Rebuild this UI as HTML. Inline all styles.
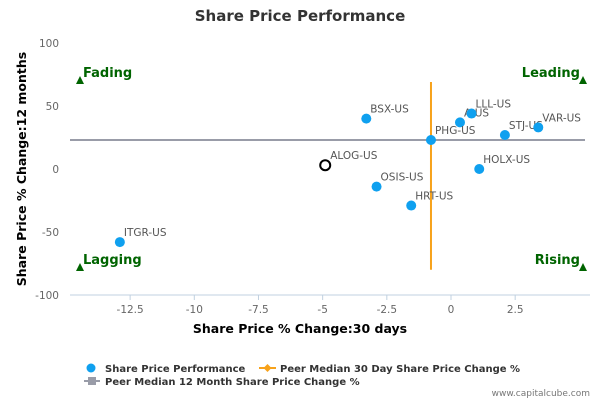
<!DOCTYPE html>
<html><head><meta charset="utf-8"><style>
body{margin:0;background:#fff;font-family:"DejaVu Sans","Liberation Sans",sans-serif}
svg text{font-family:"DejaVu Sans","Liberation Sans",sans-serif}
</style></head><body>
<svg id="c" width="600" height="400" xmlns="http://www.w3.org/2000/svg">
<rect width="600" height="400" fill="#fff"/>
<text x="300" y="21" text-anchor="middle" font-size="15" font-weight="600" fill="#333">Share Price Performance</text>
<g id="grid"></g>
<g id="marks"></g>
<text x="300" y="333" text-anchor="middle" font-size="12.5" font-weight="bold" fill="#000">Share Price % Change:30 days</text>
<text transform="translate(26,169) rotate(-90)" text-anchor="middle" font-size="12.5" font-weight="bold" fill="#000">Share Price % Change:12 months</text>
<g>
<circle cx="91" cy="368" r="4.5" fill="#0fa0ef"/>
<text x="105" y="372" font-size="10" font-weight="bold" fill="#333">Share Price Performance</text>
<line x1="259" y1="368" x2="276" y2="368" stroke="#f7a21b" stroke-width="2"/>
<path d="M267.5 364 L271.5 368 L267.5 372 L263.5 368Z" fill="#f7a21b"/>
<text x="280" y="372" font-size="10" font-weight="bold" fill="#333">Peer Median 30 Day Share Price Change %</text>
<line x1="84" y1="381" x2="100" y2="381" stroke="#999ca8" stroke-width="2"/>
<rect x="88" y="377" width="8" height="8" fill="#999ca8"/>
<text x="105" y="385" font-size="10" font-weight="bold" fill="#333">Peer Median 12 Month Share Price Change %</text>
</g>
<text x="590" y="396" text-anchor="end" font-size="9" fill="#777">www.capitalcube.com</text>
</svg>
<script>
const names=["ITGR-US","BSX-US","A-US","LLL-US","PHG-US","STJ-US","VAR-US","HOLX-US","OSIS-US","HRT-US"];
const xVals=[-12.9,-3.3,0.35,0.8,-0.78,2.1,3.4,1.1,-2.9,-1.55];
const yVals=[-58,40,37,44,23,27,33,0,-14,-29];
const focusName="ALOG-US";const focusX=-4.9;const focusY=3;
const medianX=-0.78;const medianY=23;
const xTicks=[-12.5,-10,-7.5,-5,-2.5,0,2.5];
const yTicks=[-100,-50,0,50,100];
const sx=v=>451+v*25.67, sy=v=>169-v*1.26;
const NS="http://www.w3.org/2000/svg";
function mk(t,a,p){const e=document.createElementNS(NS,t);for(const k in a)e.setAttribute(k,a[k]);p.appendChild(e);return e;}
const g=document.getElementById('grid'),m=document.getElementById('marks');
let ax=mk('line',{x1:70,y1:295,x2:590,y2:295,stroke:'#c0d0e0'},g);


xTicks.forEach(v=>{const x=sx(v);
let t=mk('line',{x1:x,y1:295,x2:x,y2:300,stroke:'#c0d0e0'},g);


let l=mk('text',{x:x,y:313,'text-anchor':'middle','font-size':10.5,fill:'#666'},g);l.textContent=v;

});
yTicks.forEach(v=>{let l=mk('text',{x:59,y:sy(v)+4,'text-anchor':'end','font-size':10.5,fill:'#666'},g);l.textContent=v;

});
let hl=mk('line',{x1:70,y1:sy(medianY),x2:585,y2:sy(medianY),stroke:'#999ca8','stroke-width':2},m);


let vl=mk('line',{x1:sx(medianX),y1:sy(69),x2:sx(medianX),y2:sy(-80),stroke:'#f7a21b','stroke-width':2},m);


[["Fading",80,81,'start'],["Leading",583,81,'end'],["Lagging",80,268,'start'],["Rising",583,268,'end']].forEach(q=>{
let tr=mk('path',{d:`M${q[1]} ${q[2]-5} L${q[1]+4} ${q[2]+3} L${q[1]-4} ${q[2]+3}Z`,fill:'#006400'},m);


let tx=mk('text',{x:q[3]=='start'?q[1]+3:q[1]-3,y:q[2]-4,'text-anchor':q[3],'font-size':13,'font-weight':'bold',fill:'#006400'},m);tx.textContent=q[0];

});
names.forEach((n,i)=>{const x=sx(xVals[i]),y=sy(yVals[i]);
let c=mk('circle',{cx:x,cy:y,r:5,fill:'#0fa0ef'},m);


let l=mk('text',{x:x+4,y:y-6,'font-size':10.5,fill:'#555'},m);l.textContent=n;

});
let fc=mk('circle',{cx:sx(focusX),cy:sy(focusY),r:5,fill:'#fff',stroke:'#000','stroke-width':2},m);


let fl=mk('text',{x:sx(focusX)+5,y:sy(focusY)-6,'font-size':10.5,fill:'#555'},m);fl.textContent=focusName;


</script>
</body></html>
